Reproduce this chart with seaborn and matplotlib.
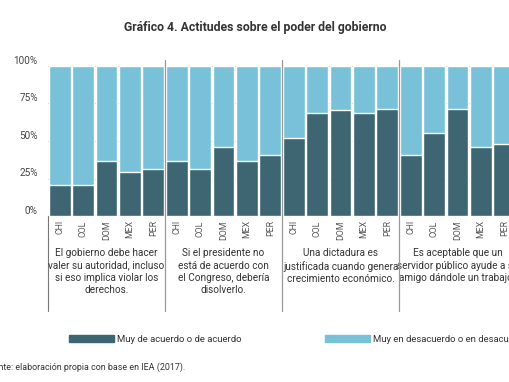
import matplotlib
matplotlib.use('Agg')
import matplotlib.pyplot as plt
from matplotlib.patches import Patch
import seaborn as sns
import pandas as pd

# datos (porcentaje "muy de acuerdo o de acuerdo")
paises = ['CHI', 'COL', 'DOM', 'MEX', 'PER']
autoridad = [20.5, 20.5, 36.7, 29.0, 31.3]
congreso = [36.7, 31.3, 46.2, 36.7, 40.7]
dictadura = [52.2, 68.4, 70.4, 68.4, 71.1]
servidor = [40.7, 55.1, 71.1, 46.2, 48.2]

preguntas = [
    'El gobierno debe hacer\nvaler su autoridad, incluso\nsi eso implica violar los\nderechos.',
    'Si el presidente no\nestá de acuerdo con\nel Congreso, debería\ndisolverlo.',
    'Una dictadura es\njustificada cuando genera\ncrecimiento económico.',
    'Es aceptable que un\nservidor público ayude a su\namigo dándole un trabajo.',
]
leyenda = ['Muy de acuerdo o de acuerdo', 'Muy en desacuerdo o en desacuerdo']

OSCURO = '#3e6572'
CLARO = '#79c1d9'

sns.set_style('white')
plt.rcParams['font.family'] = ['Roboto', 'DejaVu Sans']

filas = []
for g, serie in enumerate([autoridad, congreso, dictadura, servidor]):
    for p, v in zip(paises, serie):
        filas.append({'pos': f'{g}-{p}', 'pais': p, 'acuerdo': v, 'total': 100})
df = pd.DataFrame(filas)

W, H = 510, 382
fig = plt.figure(figsize=(W / 100, H / 100), dpi=100)
ax = fig.add_axes([48 / W, (H - 216) / H, 468 / W, 150 / H])

ax.yaxis.grid(True, color='#bbbbbb', lw=0.6, zorder=0)
ax.set_axisbelow(True)
sns.barplot(data=df, x='pos', y='total', color=CLARO, saturation=1, width=0.93, ax=ax, zorder=2)
sns.barplot(data=df, x='pos', y='acuerdo', color=OSCURO, saturation=1, width=0.93, ax=ax, zorder=3)

ax.set_xlim(-0.5, 19.5)
ax.set_ylim(0, 100)
ax.set_xlabel('')
ax.set_ylabel('')
sns.despine(ax=ax, left=True, bottom=True, top=True, right=True)

ax.set_xticks(range(20))
ax.set_xticklabels(df['pais'], rotation=90, fontsize=6.3, color='#555555')
ax.tick_params(axis='x', length=0, pad=3)

ax.set_yticks([0, 25, 50, 75, 100])
ax.set_yticklabels(['0%', '25%', '50%', '75%', '100%'], fontsize=7.2, color='#444444')
ax.tick_params(axis='y', length=14.4, width=0.8, color='#666666', pad=-7)
for lbl in ax.get_yticklabels():
    lbl.set_va('bottom')

# linea base y separadores de grupo
ax.axhline(0, color='#666666', lw=0.8, zorder=4)
ax.plot([-0.5, -0.5], [0, -63], color='#777777', lw=0.8, clip_on=False)
for x in [4.5, 9.5, 14.5]:
    ax.plot([x, x], [104, -63], color='#999999', lw=0.9, clip_on=False, zorder=5)

for g, texto in enumerate(preguntas):
    ax.text(g * 5 + 2, -21.5, texto, ha='center', va='top', fontsize=7.2,
            color='#333333', linespacing=1.3, clip_on=False)

fig.text(0.5, (H - 27) / H, 'Gráfico 4. Actitudes sobre el poder del gobierno',
         ha='center', va='center', fontsize=8.8, fontweight='bold', color='#333333')

for color, texto, x0 in [(OSCURO, leyenda[0], 69), (CLARO, leyenda[1], 325)]:
    fig.legend(handles=[Patch(color=color, label=texto)], loc='center left',
               bbox_to_anchor=(x0 / W, (H - 339) / H), frameon=False, fontsize=6.8,
               handlelength=4.8, handleheight=0.75, handletextpad=0.3, borderpad=0,
               borderaxespad=0, labelcolor='#333333')

fig.text(-16 / W, (H - 367) / H, 'Fuente: elaboración propia con base en IEA (2017).',
         ha='left', va='center', fontsize=6.4, color='#333333')

fig.savefig('out.png', dpi=100)
